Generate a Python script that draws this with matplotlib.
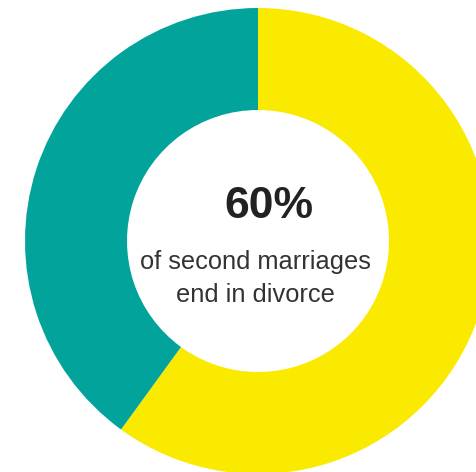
import matplotlib
matplotlib.use("Agg")
import matplotlib.pyplot as plt

# data
labels = ["End in divorce", "Do not"]
shares = [60, 40]
colors = ["#f9ea00", "#02a39a"]
headline = "60%"
caption = ["of second marriages", "end in divorce"]

W, H = 476, 472
fig = plt.figure(figsize=(W / 100, H / 100), dpi=100)
ax = fig.add_axes([0, 0, 1, 1])

cx, cy = 258, H - 241
r_out, r_in = 233, 131
ax.pie(shares, colors=colors, startangle=90, counterclock=False,
       center=(cx, cy), radius=r_out, frame=True,
       wedgeprops=dict(width=r_out - r_in, linewidth=0))
ax.set_xlim(0, W)
ax.set_ylim(0, H)
ax.set_aspect("equal")
ax.axis("off")

ax.text(269, H - 207, headline, ha="center", va="center", fontsize=32,
        fontweight="bold", color="#222222", family="Liberation Sans")
for line, y in zip(caption, [262, 295]):
    ax.text(255, H - y, line, ha="center", va="center", fontsize=18.3,
            color="#333333", family="Liberation Sans")

fig.savefig("out.png", dpi=100, facecolor="white")
